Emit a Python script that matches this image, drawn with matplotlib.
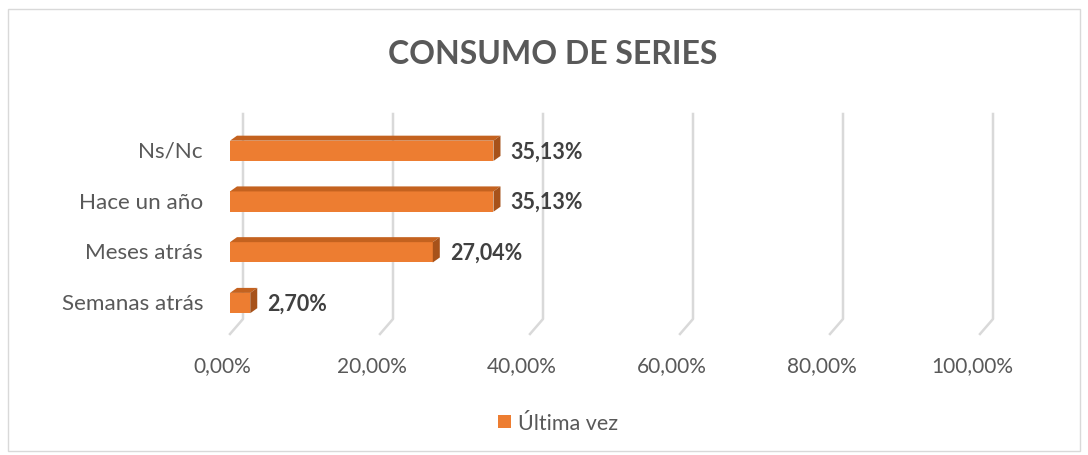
import matplotlib
matplotlib.use("Agg")
import matplotlib.pyplot as plt
from matplotlib.patches import Polygon, Rectangle, Patch
from matplotlib.lines import Line2D
import matplotlib.transforms as mtransforms

categories = ["Semanas atrás", "Meses atrás", "Hace un año", "Ns/Nc"]
values = [2.70, 27.04, 35.13, 35.13]
value_labels = ["2,70%", "27,04%", "35,13%", "35,13%"]
xticks = [0, 20, 40, 60, 80, 100]
xtick_labels = ["0,00%", "20,00%", "40,00%", "60,00%", "80,00%", "100,00%"]
title = "CONSUMO DE SERIES"
legend_label = "Última vez"

W, H = 1088, 456
FONT = ["Lato", "DejaVu Sans"]
plt.rcParams["font.family"] = FONT

fig = plt.figure(figsize=(W / 100, H / 100), dpi=100)

# chart border
fig.patches.append(Rectangle((8 / W, 4 / H), 1072 / W, 442 / H, transform=fig.transFigure,
                             fill=False, edgecolor="#D9D9D9", linewidth=1))

# axes: front plane x 0..100 -> 230..980 px, y top 130 px .. bottom 335 px
left, right = 230, 980
top, bottom = 130, 335
ax = fig.add_axes([left / W, (H - bottom) / H, (right - left) / W, (bottom - top) / H])
ax.set_xlim(0, 100)
ax.set_ylim(-0.61, 3.43)
ax.axis("off")

front = "#ED7D31"
topc = "#C4621F"
sidec = "#A7521A"
grid_c = "#D9D9D9"

# 3D gridlines (back wall verticals + floor diagonals)
gdx, gdy = 13, 15
for xt in xticks:
    fx, fy = ax.transData.transform((xt, -0.61))
    _, ty = ax.transData.transform((xt, 3.43))
    line = Line2D([fx, fx + gdx, fx + gdx], [fy, fy + gdy, ty + gdy], color=grid_c,
                  linewidth=1.8, transform=None, zorder=0)
    fig.add_artist(line)

# bars
bh = 0.40
dx, dy = 7, 5
y_pos = list(range(len(categories)))
ax.barh(y_pos, values, height=bh, color=front, zorder=3)
for y, v in zip(y_pos, values):
    x0, yt = ax.transData.transform((0, y + bh / 2))
    x1, yb = ax.transData.transform((v, y - bh / 2))
    top_poly = Polygon([(x0, yt), (x1, yt), (x1 + dx, yt + dy), (x0 + dx, yt + dy)],
                       closed=True, facecolor=topc, edgecolor="none", transform=None, zorder=4)
    side_poly = Polygon([(x1, yb), (x1, yt), (x1 + dx, yt + dy), (x1 + dx, yb + dy)],
                        closed=True, facecolor=sidec, edgecolor="none", transform=None, zorder=4)
    fig.add_artist(top_poly)
    fig.add_artist(side_poly)

# value labels
for y, v, lab in zip(y_pos, values, value_labels):
    tr = mtransforms.offset_copy(ax.transData, fig=fig, x=17, y=0, units="dots")
    ax.text(v, y, lab, transform=tr, ha="left", va="center", fontsize=15.5,
            fontweight="bold", color="#404040", zorder=5)

# category labels
for y, c in zip(y_pos, categories):
    tr = mtransforms.offset_copy(ax.transData, fig=fig, x=-27, y=0, units="dots")
    ax.text(0, y, c, transform=tr, ha="right", va="center", fontsize=16.2, color="#595959")

# x tick labels
for xt, lab in zip(xticks, xtick_labels):
    tr = mtransforms.offset_copy(ax.transData, fig=fig, x=-8, y=-31, units="dots")
    ax.text(xt, -0.61, lab, transform=tr, ha="center", va="center", fontsize=15,
            color="#595959")

# title
fig.text(553 / W, 1 - 54 / H, title, ha="center", va="center", fontsize=23,
         fontweight="bold", color="#595959")

# legend
fig.legend(handles=[Patch(facecolor=front, edgecolor="none", label=legend_label)],
           loc="center", bbox_to_anchor=(558 / W, 1 - 424 / H), frameon=False,
           fontsize=15.5, labelcolor="#595959", handlelength=0.6, handleheight=0.6,
           handletextpad=0.3)

fig.savefig("out.png", dpi=100)
